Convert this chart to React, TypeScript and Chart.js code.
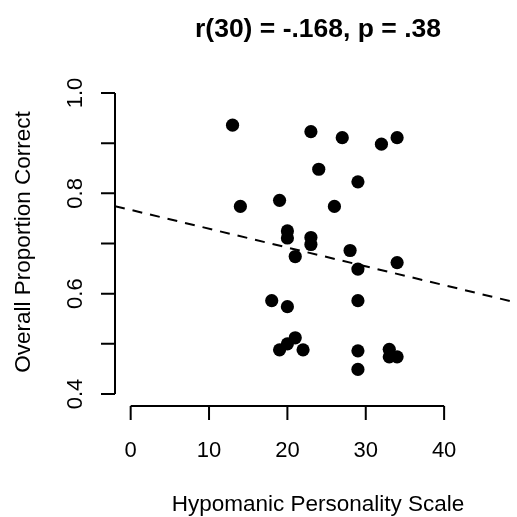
import React, { useEffect, useRef } from "react";
import { Chart, registerables } from "chart.js";

Chart.register(...registerables);

const hpsScores = [13, 14, 19, 20, 20, 21, 23, 27, 32, 34, 24, 29, 26, 23, 23, 28, 29, 34, 18, 20, 29, 21, 20, 19, 22, 29, 29, 33, 33, 34];
const proportionCorrect = [0.936, 0.774, 0.786, 0.725, 0.711, 0.674, 0.923, 0.911, 0.898, 0.911, 0.848, 0.823, 0.774, 0.712, 0.698, 0.686, 0.649, 0.662, 0.586, 0.574, 0.586, 0.512, 0.5, 0.488, 0.488, 0.486, 0.449, 0.489, 0.474, 0.474];
const fitX = [-2, 49.3];
const fitY = [0.7745, 0.582];
const xTicks = [0, 10, 20, 30, 40];
const xTickLabels = ["0", "10", "20", "30", "40"];
const yTicks = [0.4, 0.5, 0.6, 0.7, 0.8, 0.9, 1.0];
const yTickLabels = ["0.4", "", "0.6", "", "0.8", "", "1.0"];
const titleText = "r(30) = -.168, p = .38";
const xTitle = "Hypomanic Personality Scale";
const yTitle = "Overall Proportion Correct";

const FONT = "'Liberation Sans', Arial, sans-serif";

const rAxesPlugin = {
  id: "rAxes",
  afterDraw(chart: any) {
    const ctx = chart.ctx as CanvasRenderingContext2D;
    const xs = chart.scales.x;
    const ys = chart.scales.y;
    const area = chart.chartArea;
    ctx.save();
    ctx.strokeStyle = "#000";
    ctx.fillStyle = "#000";
    ctx.lineWidth = 2;
    ctx.lineCap = "butt";
    const tick = 14;
    // y axis
    const ax = area.left;
    const y0 = ys.getPixelForValue(yTicks[0]);
    const y1 = ys.getPixelForValue(yTicks[yTicks.length - 1]);
    ctx.beginPath();
    ctx.moveTo(ax, y0);
    ctx.lineTo(ax, y1);
    yTicks.forEach((v) => {
      const py = ys.getPixelForValue(v);
      ctx.moveTo(ax, py);
      ctx.lineTo(ax - tick, py);
    });
    ctx.stroke();
    // x axis
    const ay = area.bottom;
    const x0 = xs.getPixelForValue(xTicks[0]);
    const x1 = xs.getPixelForValue(xTicks[xTicks.length - 1]);
    ctx.beginPath();
    ctx.moveTo(x0, ay);
    ctx.lineTo(x1, ay);
    xTicks.forEach((v) => {
      const px = xs.getPixelForValue(v);
      ctx.moveTo(px, ay);
      ctx.lineTo(px, ay + tick);
    });
    ctx.stroke();

    ctx.font = `22px ${FONT}`;
    ctx.textAlign = "center";
    ctx.textBaseline = "alphabetic";
    xTicks.forEach((v, i) => {
      ctx.fillText(xTickLabels[i], xs.getPixelForValue(v), ay + 51);
    });
    yTicks.forEach((v, i) => {
      if (!yTickLabels[i]) return;
      ctx.save();
      ctx.translate(ax - 33, ys.getPixelForValue(v));
      ctx.rotate(-Math.PI / 2);
      ctx.fillText(yTickLabels[i], 0, 0);
      ctx.restore();
    });
    // axis titles
    ctx.font = `22.5px ${FONT}`;
    ctx.fillText(xTitle, 318, 511);
    ctx.save();
    ctx.translate(30, 242);
    ctx.rotate(-Math.PI / 2);
    ctx.fillText(yTitle, 0, 0);
    ctx.restore();
    // main title
    ctx.font = `bold 26.5px ${FONT}`;
    ctx.fillText(titleText, 318, 37);
    ctx.restore();
  },
};

export default function App() {
  const ref = useRef<HTMLCanvasElement | null>(null);
  useEffect(() => {
    if (!ref.current) return;
    const points = hpsScores.map((x, i) => ({ x, y: proportionCorrect[i] }));
    const fit = fitX.map((x, i) => ({ x, y: fitY[i] }));
    const chart = new Chart(ref.current, {
      type: "scatter",
      data: {
        datasets: [
          {
            type: "scatter",
            data: points,
            backgroundColor: "#000",
            borderWidth: 0,
            pointRadius: 6.6,
            order: 0,
          } as any,
          {
            type: "line",
            data: fit,
            borderColor: "#000",
            borderWidth: 2,
            borderDash: [10, 8],
            pointRadius: 0,
            fill: false,
            order: 1,
          } as any,
        ],
      },
      options: {
        animation: false,
        responsive: false,
        devicePixelRatio: 1,
        layout: { autoPadding: false, padding: { left: 115, right: 0, top: 81, bottom: 111 } },
        scales: {
          x: { type: "linear", min: -2, max: 49.3, display: false },
          y: { type: "linear", min: 0.376, max: 1.024, display: false },
        },
        plugins: { legend: { display: false }, tooltip: { enabled: false } },
      },
      plugins: [rAxesPlugin],
    });
    return () => chart.destroy();
  }, []);
  return (
    <div style={{ position: "absolute", left: 0, top: 0, width: 517, height: 517, background: "#fff" }}>
      <canvas ref={ref} width={517} height={517} />
    </div>
  );
}
